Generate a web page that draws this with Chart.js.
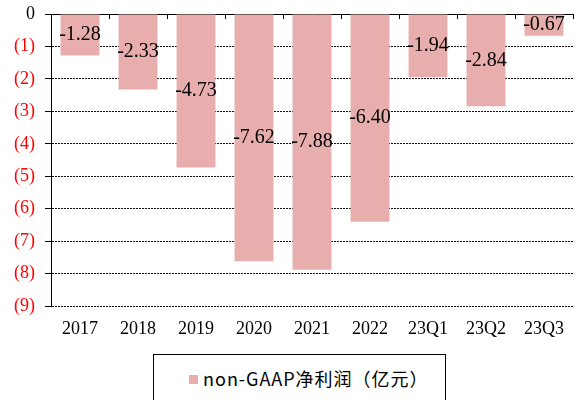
<!DOCTYPE html>
<html>
<head>
<meta charset="utf-8">
<script src="https://cdn.jsdelivr.net/npm/chart.js@4"></script>
<style>
  html, body { margin: 0; padding: 0; background: #fff; }
  #wrap { position: relative; width: 579px; height: 400px; overflow: hidden; }
  #chart { position: absolute; left: 0; top: 0; }
  #legend {
    position: absolute; left: 153px; top: 354px; width: 293px; height: 80px;
    border: 1.5px solid #000; box-sizing: border-box; background: #fff;
  }
  #legend .item { position: absolute; left: 35px; top: 10px; display: flex; align-items: center;
    font-family: "Noto Sans CJK SC", "Noto Sans", sans-serif; font-size: 18px; letter-spacing: 1px;
    color: #000; white-space: nowrap; }
  #legend .swatch { width: 9px; height: 9px; margin-right: 5px; margin-top: 3px; }
</style>
</head>
<body>
<div id="wrap">
  <canvas id="chart" width="579" height="400"></canvas>
  <div id="legend"></div>
</div>
<script>
// Yearly / quarterly non-GAAP net profit, in 100 million yuan
const categories = ['2017', '2018', '2019', '2020', '2021', '2022', '23Q1', '23Q2', '23Q3'];
const netProfit = [-1.28, -2.33, -4.73, -7.62, -7.88, -6.40, -1.94, -2.84, -0.67];
const seriesName = 'non-GAAP净利润（亿元）';
const yMin = -9;
const yMax = 0;

const barColor = '#E8ADAD';
const serif = '"Liberation Serif", "Times New Roman", serif';

// Value labels centred inside each bar
const valueLabels = {
  id: 'valueLabels',
  afterDatasetsDraw(chart) {
    const { ctx } = chart;
    const meta = chart.getDatasetMeta(0);
    const values = chart.data.datasets[0].data;
    ctx.save();
    ctx.font = '20px ' + serif;
    ctx.fillStyle = '#000';
    ctx.textAlign = 'center';
    ctx.textBaseline = 'middle';
    meta.data.forEach((bar, i) => {
      ctx.fillText(values[i].toFixed(2), bar.x, (bar.y + bar.base) / 2);
    });
    ctx.restore();
  }
};

const chart = new Chart(document.getElementById('chart'), {
  type: 'bar',
  data: {
    labels: categories,
    datasets: [{
      label: seriesName,
      data: netProfit,
      backgroundColor: barColor,
      borderWidth: 0,
      categoryPercentage: 1,
      barPercentage: 0.67
    }]
  },
  options: {
    responsive: false,
    animation: false,
    devicePixelRatio: 1,
    layout: { padding: { top: 0, right: 6, bottom: 0, left: 0 } },
    plugins: {
      legend: { display: false },
      tooltip: { enabled: false }
    },
    scales: {
      x: {
        position: 'bottom',
        offset: true,
        grid: { display: false, drawTicks: false, drawOnChartArea: false },
        border: { display: false },
        ticks: {
          color: '#000',
          font: { family: serif, size: 18 },
          padding: 12,
          maxRotation: 0,
          autoSkip: false
        },
        afterFit(scale) { scale.height = 94; }
      },
      xTop: {
        type: 'category',
        position: 'top',
        labels: categories,
        offset: true,
        grid: {
          offset: true,
          drawOnChartArea: false,
          drawTicks: true,
          tickLength: -5,
          color: '#000',
          tickColor: '#000',
          lineWidth: 1
        },
        border: { display: true, color: '#000', width: 1 },
        ticks: { display: false },
        afterFit(scale) { scale.height = 14; }
      },
      y: {
        min: yMin,
        max: yMax,
        ticks: {
          stepSize: 1,
          padding: 10,
          font: { family: serif, size: 18 },
          color: (c) => (c.tick.value === 0 ? '#000' : '#FF0000'),
          callback: (v) => (v === 0 ? '0' : '(' + (-v) + ')')
        },
        grid: {
          color: (c) => (c.tick && c.tick.value === 0 ? 'rgba(0,0,0,0)' : '#111'),
          tickColor: '#000',
          tickLength: 6,
          tickBorderDash: [],
          lineWidth: 1
        },
        border: { display: true, color: '#000', width: 1, dash: [2, 1] },
        afterFit(scale) {
          scale.width = 51;
          scale.paddingTop = 0;
          scale.paddingBottom = 0;
        }
      }
    }
  },
  plugins: [valueLabels]
});

// Legend box built from the dataset
const legend = document.getElementById('legend');
chart.data.datasets.forEach((ds) => {
  const item = document.createElement('div');
  item.className = 'item';
  const sw = document.createElement('span');
  sw.className = 'swatch';
  sw.style.background = ds.backgroundColor;
  const tx = document.createElement('span');
  tx.textContent = ds.label;
  item.appendChild(sw);
  item.appendChild(tx);
  legend.appendChild(item);
});
</script>
</body>
</html>
